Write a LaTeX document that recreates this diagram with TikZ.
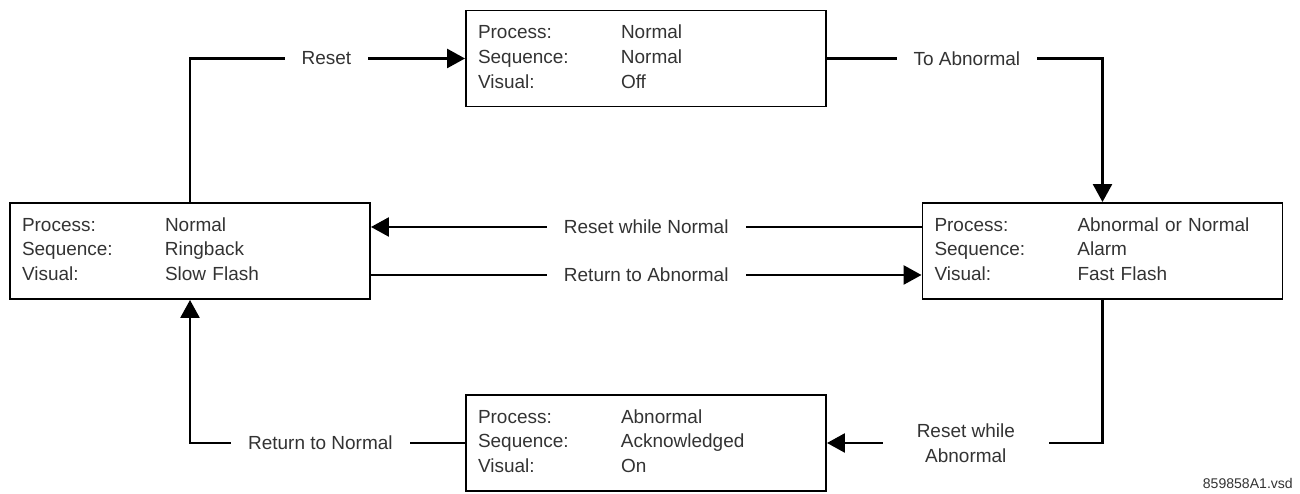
\documentclass[tikz,border=0pt]{standalone}
\usepackage{fontspec}
\setmainfont{Liberation Sans}
\usetikzlibrary{arrows.meta, positioning}
\definecolor{TextGray}{HTML}{333333}
\newcommand{\staterows}[3]{%
  \begin{tabular}{@{}p{2.86cm}@{}l@{}}
    Process:  & #1\\
    Sequence: & #2\\
    Visual:   & #3
  \end{tabular}}

\begin{document}
\begin{tikzpicture}[
        font=\fontsize{10.8}{14.2}\selectfont, text=TextGray,
        state/.style={draw=black, line width=1.1pt, align=left,
                      inner xsep=0.24cm, minimum width=7.2cm,
                      minimum height=1.92cm, text width=6.72cm},
        link/.style={-{Triangle[length=0.36cm, width=0.38cm]}, line width=1.5pt},
        lbl/.style={fill=white, inner xsep=0.34cm, inner ysep=2pt},
      ]
        \useasboundingbox (0,0) rectangle (26,9.88);
        \node[state] (normal)   at (12.92,8.71) {\staterows{Normal}{Normal}{Off}};
        \node[state] (ringback) at (3.8,4.86)   {\staterows{Normal}{Ringback}{Slow Flash}};
        \node[state] (alarm)    at (22.05,4.86) {\staterows{Abnormal or Normal}{Alarm}{Fast Flash}};
        \node[state] (ack)      at (12.92,1.02) {\staterows{Abnormal}{Acknowledged}{On}};
        \draw[link] (ringback.north) |- node[lbl, pos=0.748] {Reset} (normal.west);
        \draw[link] (normal.east) -| node[lbl, pos=0.254] {To Abnormal} (alarm.north);
        \draw[link] ([yshift=0.48cm]alarm.west) -- node[lbl] {Reset while Normal} ([yshift=0.48cm]ringback.east);
        \draw[link] ([yshift=-0.48cm]ringback.east) -- node[lbl] {Return to Abnormal} ([yshift=-0.48cm]alarm.west);
        \draw[link] (alarm.south) |- node[lbl, align=center, inner xsep=0.68cm, pos=0.748] {Reset while\\Abnormal} (ack.east);
        \draw[link] (ack.west) -| node[lbl, pos=0.263] {Return to Normal} (ringback.south);
        \node[anchor=base east, font=\fontsize{8}{9}\selectfont] (fileid) at (25.98,0.1) {859858A1.vsd};
      \end{tikzpicture}
\end{document}
